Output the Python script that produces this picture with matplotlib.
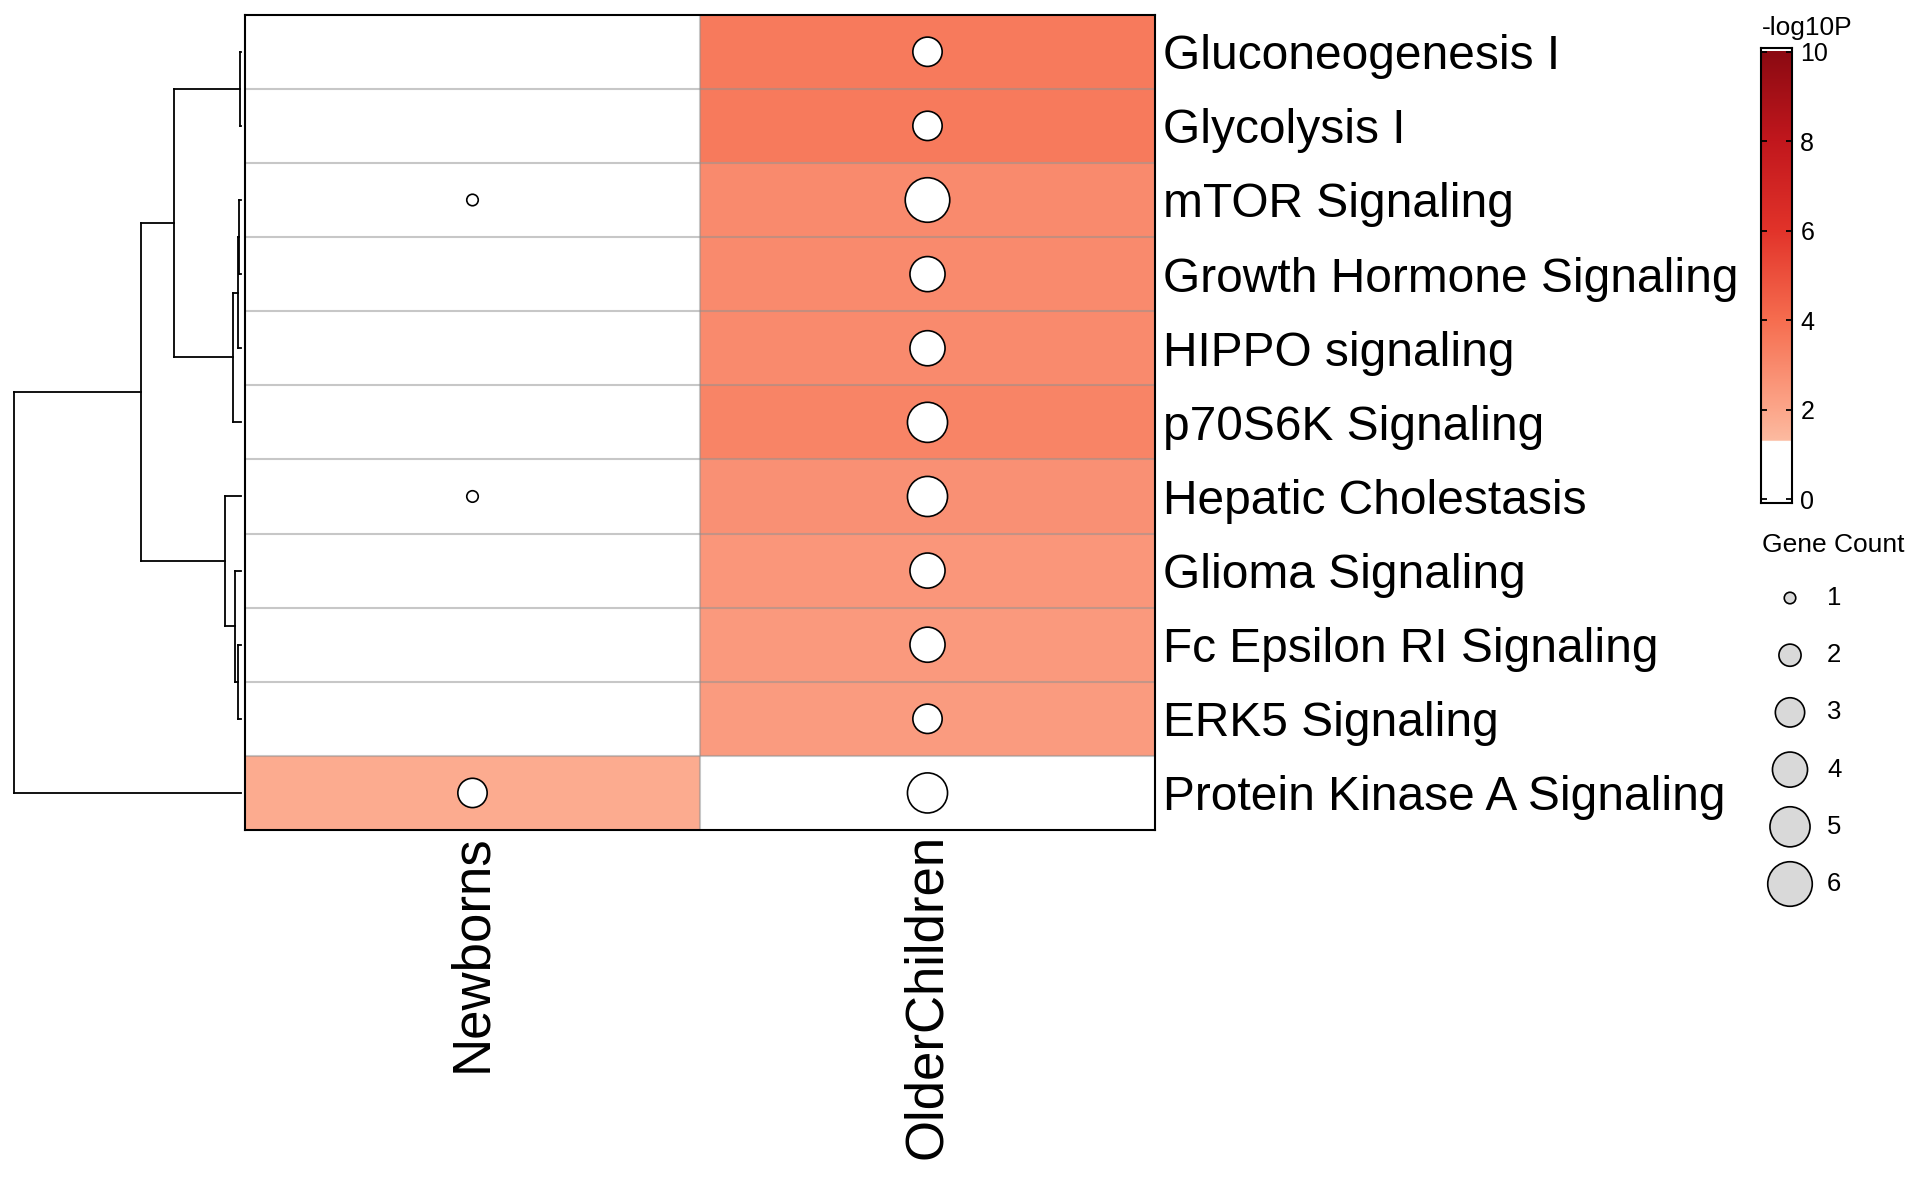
import numpy as np
import matplotlib
matplotlib.use("Agg")
import matplotlib.pyplot as plt
from matplotlib.colors import LinearSegmentedColormap, Normalize

plt.rcParams["font.family"] = ["Liberation Sans", "DejaVu Sans"]

# DATA

pathways = [
    "Gluconeogenesis I",
    "Glycolysis I",
    "mTOR Signaling",
    "Growth Hormone Signaling",
    "HIPPO signaling",
    "p70S6K Signaling",
    "Hepatic Cholestasis",
    "Glioma Signaling",
    "Fc Epsilon RI Signaling",
    "ERK5 Signaling",
    "Protein Kinase A Signaling"
]

groups = ["Newborns", "OlderChildren"]

# -log10P per group (cells below 1.3 are drawn white)
newborns_logp = [0.0, 0.0, 0.5, 0.0, 0.0, 0.0, 0.5, 0.0, 0.0, 0.0, 1.83]
older_logp = [3.54, 3.54, 2.98, 2.98, 2.95, 3.19, 2.74, 2.53, 2.42, 2.35, 0.9]

# gene counts per group (0 = no dot)
newborns_count = [0, 0, 1, 0, 0, 0, 1, 0, 0, 0, 3]
older_count = [3, 3, 6, 4, 4, 5, 5, 4, 4, 3, 5]

# row dendrogram (leaf ids 0..10 in plotted order, new clusters 11..)
merge_left = [0, 2, 12, 13, 11, 8, 7, 6, 15, 19]
merge_right = [1, 3, 4, 5, 14, 9, 16, 17, 18, 10]
merge_height = [0.004, 0.007, 0.013, 0.037, 0.297, 0.013, 0.025, 0.070, 0.441, 1.0]

cbar_ticks = [0, 2, 4, 6, 8, 10]
legend_counts = [1, 2, 3, 4, 5, 6]

# STYLE

W, H = 1920, 1186
cmap = LinearSegmentedColormap.from_list(
    "logp",
    [
        (0.0, "#FFFFFF"),
        (0.1299, "#FFFFFF"),
        (0.13, "#FCBBA1"),
        (0.2, "#FCA68A"),
        (0.4, "#F66D4F"),
        (0.6, "#E2332A"),
        (0.8, "#C1171D"),
        (1.0, "#8B0A12")
    ],
    N=2000
)
norm = Normalize(0, 10)


def dot_size(n):
    # diameter in pixels grows with area ~ count
    d_px = np.sqrt(169 + 390 * (np.asarray(n, dtype=float) - 1)) - 1.5
    return (d_px * 72 / 100) ** 2


fig = plt.figure(figsize=(W / 100, H / 100), dpi=100)
fig.patch.set_facecolor("white")

hm_left, hm_right = 245 / W, 1155 / W
hm_bottom, hm_top = 1 - 830 / H, 1 - 14.7 / H

# HEATMAP

ax = fig.add_axes([hm_left, hm_bottom, hm_right - hm_left, hm_top - hm_bottom])

matrix = np.column_stack([newborns_logp, older_logp])
counts = np.column_stack([newborns_count, older_count])

ax.imshow(
    matrix,
    cmap=cmap,
    norm=norm,
    aspect="auto",
    interpolation="nearest",
    extent=(-0.5, 1.5, len(pathways) - 0.5, -0.5)
)

for k in range(len(pathways) - 1):
    ax.axhline(k + 0.5, color="#909090", alpha=0.5, lw=1.5)
for k in range(len(groups) - 1):
    ax.axvline(k + 0.5, color="#909090", alpha=0.5, lw=1.5)

rows, cols = np.nonzero(counts)
ax.scatter(
    cols,
    rows,
    s=dot_size(counts[rows, cols]),
    facecolor="white",
    edgecolor="black",
    linewidths=1.2,
    zorder=3
)

ax.set_xlim(-0.5, 1.5)
ax.set_ylim(len(pathways) - 0.5, -0.5)

ax.yaxis.tick_right()
ax.set_yticks(range(len(pathways)))
ax.set_yticklabels(pathways, fontsize=34.5)
ax.set_xticks(range(len(groups)))
ax.set_xticklabels(groups, fontsize=38, rotation=90)
ax.tick_params(axis="y", length=0, pad=5.5)
ax.tick_params(axis="x", length=0, pad=3)

for sp in ax.spines.values():
    sp.set_linewidth(1.5)
    sp.set_color("black")

# DENDROGRAM

dax = fig.add_axes([14 / W, hm_bottom, (241 - 14) / W, hm_top - hm_bottom])
dax.set_xlim(1.0, 0.0)
dax.set_ylim(len(pathways) - 0.5, -0.5)
dax.axis("off")

pos = {i: float(i) for i in range(len(pathways))}
hgt = {i: 0.0 for i in range(len(pathways))}

for n, (a, b, h) in enumerate(zip(merge_left, merge_right, merge_height)):
    node = len(pathways) + n
    ya, yb = pos[a], pos[b]
    dax.plot([h, h], [ya, yb], color="black", lw=1.3, clip_on=False)
    dax.plot([h, hgt[a]], [ya, ya], color="black", lw=1.3, clip_on=False)
    dax.plot([h, hgt[b]], [yb, yb], color="black", lw=1.3, clip_on=False)
    pos[node] = (ya + yb) / 2
    hgt[node] = h

# COLORBAR

cax = fig.add_axes([1761 / W, 1 - 503 / H, 31 / W, 455 / H])
gradient = np.linspace(0, 10, 2000).reshape(-1, 1)
cax.imshow(
    gradient,
    cmap=cmap,
    norm=norm,
    aspect="auto",
    origin="lower",
    extent=(0, 1, 0, 10)
)
cax.set_xlim(0, 1)
cax.set_ylim(-0.089, 10.083)
cax.set_xticks([])
cax.set_yticks(cbar_ticks)
cax.set_yticklabels([str(t) for t in cbar_ticks], fontsize=18)
cax.tick_params(
    axis="y",
    direction="in",
    left=True,
    right=True,
    labelleft=False,
    labelright=True,
    length=4,
    width=1.3,
    pad=6
)
for sp in cax.spines.values():
    sp.set_linewidth(1.5)

fig.text(1762 / W, 1 - 16 / H, "-log10P", ha="left", va="top", fontsize=19)

# GENE COUNT LEGEND

lax = fig.add_axes([0, 0, 1, 1], zorder=-1)
lax.set_xlim(0, W)
lax.set_ylim(H, 0)
lax.axis("off")

fig.text(1762 / W, 1 - 545 / H, "Gene Count", ha="left", va="center", fontsize=19)

leg_y = 598 + 57.2 * np.arange(len(legend_counts))
lax.scatter(
    np.full(len(legend_counts), 1790),
    leg_y,
    s=dot_size(legend_counts),
    facecolor="#D9D9D9",
    edgecolor="black",
    linewidths=1.2
)
for c, y in zip(legend_counts, leg_y):
    lax.text(1827, y, str(c), ha="left", va="center", fontsize=18.5)

fig.savefig("out.png", dpi=100, facecolor="white")
